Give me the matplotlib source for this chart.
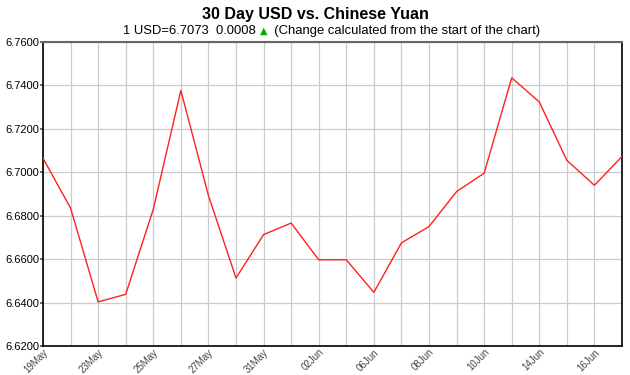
import numpy as np
import matplotlib
matplotlib.use("Agg")
import matplotlib.pyplot as plt

plt.rcParams['font.family'] = ['Liberation Sans', 'DejaVu Sans']

# 30 business days of USD -> CNY
dates = ['19May', '20May', '23May', '24May', '25May', '26May', '27May', '30May',
         '31May', '01Jun', '02Jun', '03Jun', '06Jun', '07Jun', '08Jun', '09Jun',
         '10Jun', '13Jun', '14Jun', '15Jun', '16Jun', '17Jun']
rates = [6.7065, 6.6835, 6.6403, 6.6438, 6.6830, 6.7377, 6.6893, 6.6513,
         6.6713, 6.6766, 6.6597, 6.6597, 6.6447, 6.6675, 6.6750, 6.6911,
         6.6996, 6.7435, 6.7324, 6.7055, 6.6940, 6.7073]
yticks = [6.62, 6.64, 6.66, 6.68, 6.70, 6.72, 6.74, 6.76]

title = "30 Day USD vs. Chinese Yuan"
sub_left = "1 USD=6.7073  0.0008 "
sub_arrow = "\u25B2"
sub_right = "  (Change calculated from the start of the chart)"

fig = plt.figure(figsize=(6.3, 3.75), dpi=100)
ax = fig.add_axes((43/630, 1-346/375, 579/630, 304/375))

x = np.arange(len(rates))
ax.plot(x, rates, color='#ff2020', lw=1.0, zorder=3)

ax.set_xlim(0, len(rates) - 1)
ax.set_ylim(yticks[0], yticks[-1])
ax.set_yticks(yticks)
ax.set_yticklabels([f"{v:.4f}" for v in yticks], fontsize=8)
ax.set_xticks(x)
ax.set_xticklabels([d if i % 2 == 0 else '' for i, d in enumerate(dates)],
                   rotation=45, ha='right', va='top', rotation_mode='anchor',
                   fontsize=7, color='#444444')
ax.tick_params(axis='x', length=0, pad=0.8)
ax.tick_params(axis='y', length=2, width=1.2, color='#555555', pad=0.5)
ax.grid(True, color='#cccccc', lw=0.9)
ax.set_axisbelow(True)

for s in ('left', 'bottom', 'right'):
    ax.spines[s].set_color('black')
    ax.spines[s].set_linewidth(1.2)
ax.spines['top'].set_color('#666666')
ax.spines['top'].set_linewidth(1.5)

fig.text(0.5, 1-15/375, title, ha='center', va='center', fontsize=11.5, fontweight='bold')

# subtitle is three pieces so the arrow can be green
fs = 9.4
renderer = fig.canvas.get_renderer()
parts = [(sub_left, 'black'), (sub_arrow, '#00aa00'), (sub_right, 'black')]
texts = []
widths = []
for s, c in parts:
    t = fig.text(0, 1-31/375, s, ha='left', va='center', fontsize=fs if c == 'black' else 7,
                 color=c, family=['DejaVu Sans'] if c != 'black' else None)
    widths.append(t.get_window_extent(renderer).width)
    texts.append(t)
xpos = 332 - sum(widths) / 2
for t, w in zip(texts, widths):
    t.set_x(xpos / 630)
    xpos += w

fig.savefig('out.png', dpi=100, facecolor='white')
